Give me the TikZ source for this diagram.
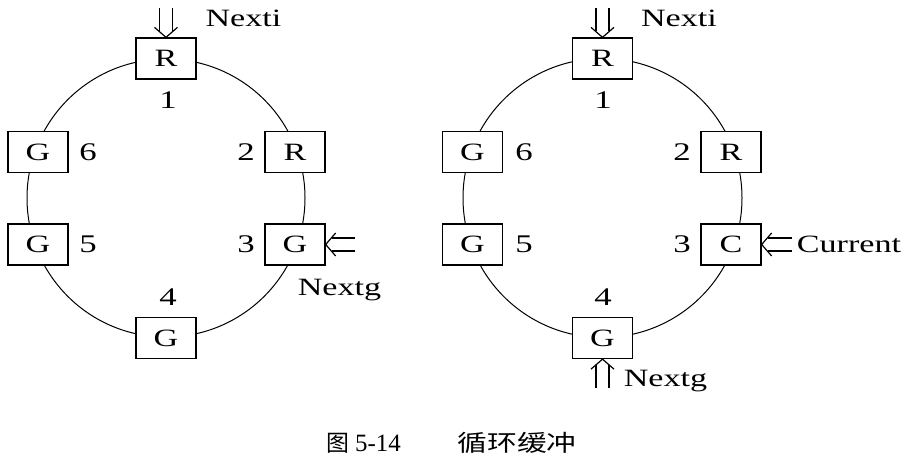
\documentclass[tikz,border=0pt]{standalone}
\usepackage{fontspec}
\setmainfont{Liberation Serif}
\newfontfamily\widefont[FakeStretch=1.37]{Liberation Serif}
\newfontfamily\cjkwide[FakeStretch=1.3]{Noto Sans CJK SC}
\newfontfamily\cjkplain{Noto Sans CJK SC}
\usetikzlibrary{calc}
% double (hollow) arrow from coordinate #1 to node anchor #2
\newcommand\DblArr[2]{%
  \draw[arrowline] ($(#1)!6.5bp!90:(#2)$) -- ($($(#2)!6bp!(#1)$)!6.5bp!-90:(#1)$);
  \draw[arrowline] ($(#1)!6.5bp!-90:(#2)$) -- ($($(#2)!6bp!(#1)$)!6.5bp!90:(#1)$);
  \draw[arrowline,line join=miter] ($($(#2)!10bp!(#1)$)!11.5bp!90:(#1)$) -- (#2) -- ($($(#2)!10bp!(#1)$)!11.5bp!-90:(#1)$);
}
\begin{document}
\begin{tikzpicture}[x=1bp,y=-1bp,
  cell/.style={draw,line width=1.3bp,fill=white,minimum width=60bp,minimum height=41bp,inner sep=0pt,font=\widefont\fontsize{25}{30}\selectfont},
  num/.style={anchor=base,inner sep=0pt,font=\widefont\fontsize{25.5}{30}\selectfont},
  ptr/.style={anchor=base,inner sep=0pt,font=\widefont\fontsize{25}{30}\selectfont},
  ring/.style={line width=1bp},
  arrowline/.style={line width=1.2bp}]
\useasboundingbox (0,0) rectangle (908,466);
% ---------- left ring ----------
\draw[ring] (166,198) circle (139);
\node[cell] (L1) at (166,58.5) {R};
\node[cell] (L2) at (295,152) {R};
\node[cell] (L3) at (295,244.5) {G};
\node[cell] (L4) at (166,338) {G};
\node[cell] (L5) at (38,244.5) {G};
\node[cell] (L6) at (38,152) {G};
\node[num] (l1) at (168,108.5) {1};
\node[num] (l2) at (246,160.5) {2};
\node[num] (l3) at (246,253) {3};
\node[num] (l4) at (168,306) {4};
\node[num] (l5) at (88,253) {5};
\node[num] (l6) at (88,160.5) {6};
\coordinate (LiS) at (166,8);
\DblArr{LiS}{L1.north}
\node[ptr] (LiT) at (243.5,26.5) {Nexti};
\coordinate (LgS) at (355,244.5);
\DblArr{LgS}{L3.east}
\node[ptr] (LgT) at (339.5,296) {Nextg};
% ---------- right ring ----------
\draw[ring] (602.5,198) circle (139.5);
\node[cell] (R1) at (602.5,58.5) {R};
\node[cell] (R2) at (731,152) {R};
\node[cell] (R3) at (731,244.5) {C};
\node[cell] (R4) at (602.5,338) {G};
\node[cell] (R5) at (472.5,244.5) {G};
\node[cell] (R6) at (472.5,152) {G};
\node[num] (r1) at (603,108.5) {1};
\node[num] (r2) at (682,160.5) {2};
\node[num] (r3) at (682,253) {3};
\node[num] (r4) at (603,306) {4};
\node[num] (r5) at (524,253) {5};
\node[num] (r6) at (524,160.5) {6};
\coordinate (RiS) at (602.5,8);
\DblArr{RiS}{R1.north}
\node[ptr] (RiT) at (679,26.5) {Nexti};
\coordinate (RcS) at (792,244.5);
\DblArr{RcS}{R3.east}
\node[ptr] (RcT) at (849,253) {Current};
\coordinate (RgS) at (602.5,388);
\DblArr{RgS}{R4.south}
\node[ptr] (RgT) at (665.5,387) {Nextg};
% ---------- caption ----------
\node[anchor=center,inner sep=0pt,font=\cjkplain\fontsize{23}{28}\selectfont] (c1) at (338,443) {图};
\node[anchor=base,inner sep=0pt,font=\fontsize{25}{30}\selectfont] (c2) at (378,451.5) {5-14};
\node[anchor=center,inner sep=0pt,font=\cjkwide\fontsize{23}{28}\selectfont] (c3) at (517,443) {循环缓冲};
\end{tikzpicture}
\end{document}
